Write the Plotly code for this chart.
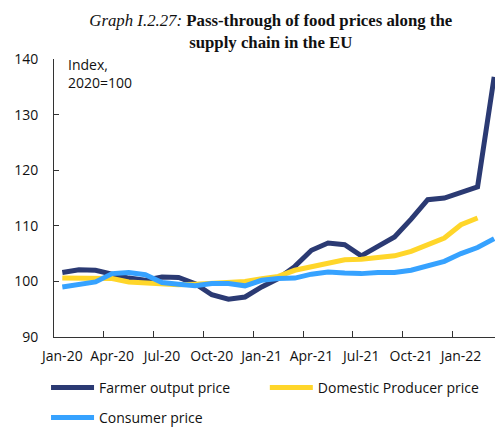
import plotly.graph_objects as go

months = ["Jan-20", "Feb-20", "Mar-20", "Apr-20", "May-20", "Jun-20", "Jul-20", "Aug-20", "Sep-20",
          "Oct-20", "Nov-20", "Dec-20", "Jan-21", "Feb-21", "Mar-21", "Apr-21", "May-21", "Jun-21",
          "Jul-21", "Aug-21", "Sep-21", "Oct-21", "Nov-21", "Dec-21", "Jan-22", "Feb-22", "Mar-22"]

farmer = [101.6, 102.1, 102.0, 101.3, 100.6, 100.2, 100.8, 100.7, 99.6, 97.6, 96.8, 97.2, 99.0,
          100.5, 102.7, 105.6, 106.9, 106.6, 104.6, 106.3, 108.0, 111.2, 114.7, 115.0, 115.9,
          117.0, 136.8]
producer = [100.6, 100.6, 100.6, 100.5, 99.9, 99.7, 99.5, 99.4, 99.5, 99.6, 99.9, 100.0, 100.5,
            100.9, 102.0, 102.7, 103.3, 103.9, 104.0, 104.2, 104.6, 105.4, 106.5, 107.8, 110.2,
            111.4, None]
consumer = [99.0, 99.5, 99.9, 101.4, 101.6, 101.2, 99.8, 99.5, 99.2, 99.6, 99.6, 99.2, 100.2,
            100.5, 100.6, 101.3, 101.7, 101.5, 101.4, 101.6, 101.6, 102.0, 102.7, 103.6, 105.0,
            106.1, 107.7]

navy = "#2B3A73"
yellow = "#FFD62A"
blue = "#36A2FF"
font = "Open Sans, Liberation Sans, sans-serif"

fig = go.Figure()
fig.add_trace(go.Scatter(x=months, y=farmer, mode="lines", name="Farmer output price",
                         line=dict(color=navy, width=5), legend="legend"))
fig.add_trace(go.Scatter(x=months, y=producer, mode="lines", name="Domestic Producer price",
                         line=dict(color=yellow, width=5), legend="legend3"))
fig.add_trace(go.Scatter(x=months, y=consumer, mode="lines", name="Consumer price",
                         line=dict(color=blue, width=5), legend="legend2"))

leg = dict(orientation="h", xref="container", yref="container", xanchor="left",
           yanchor="top", itemwidth=43, font=dict(size=14), bgcolor="rgba(0,0,0,0)")

fig.update_layout(
    width=495, height=428,
    margin=dict(l=54, r=0, t=59, b=91),
    plot_bgcolor="white", paper_bgcolor="white",
    font=dict(family=font, size=14, color="#111111"),
    showlegend=True,
    title=dict(
        text="<i>Graph I.2.27:</i> <b>Pass-through of food prices along the</b><br><b>supply chain in the EU</b>",
        font=dict(family="Liberation Serif, serif", size=16.8, color="#111111"),
        x=0.547, xanchor="center", xref="container",
        y=0.94, yanchor="top", yref="container",
    ),
    xaxis=dict(
        type="category", range=[-0.5, 26.05],
        showline=True, linecolor="#333333", linewidth=1,
        ticks="inside", ticklen=6, tickcolor="#333333",
        tickson="boundaries", dtick=3, tick0=0, tickangle=0,
        showgrid=False, zeroline=False, automargin=False,
        ticklabelstandoff=6,
        tickfont=dict(size=14),
    ),
    yaxis=dict(
        range=[90, 140], dtick=10,
        showline=True, linecolor="#333333", linewidth=1,
        ticks="inside", ticklen=5, tickcolor="#333333",
        showgrid=False, zeroline=False, automargin=False,
        ticklabelstandoff=12,
        tickfont=dict(size=14),
    ),
    legend=dict(leg, x=0.093, y=0.131),
    legend3=dict(leg, x=0.535, y=0.131),
    legend2=dict(leg, x=0.093, y=0.061),
    annotations=[dict(
        text="Index,<br>2020=100", xref="paper", yref="paper",
        x=0.027, y=1.02, xanchor="left", yanchor="top", align="left",
        showarrow=False, font=dict(size=14),
    )],
)

# drop the default page margin so the 495x428 figure fills the window
fig.write_html("out.html", config={"displayModeBar": False},
               post_script="document.body.style.margin='0';document.body.style.overflow='hidden';")
